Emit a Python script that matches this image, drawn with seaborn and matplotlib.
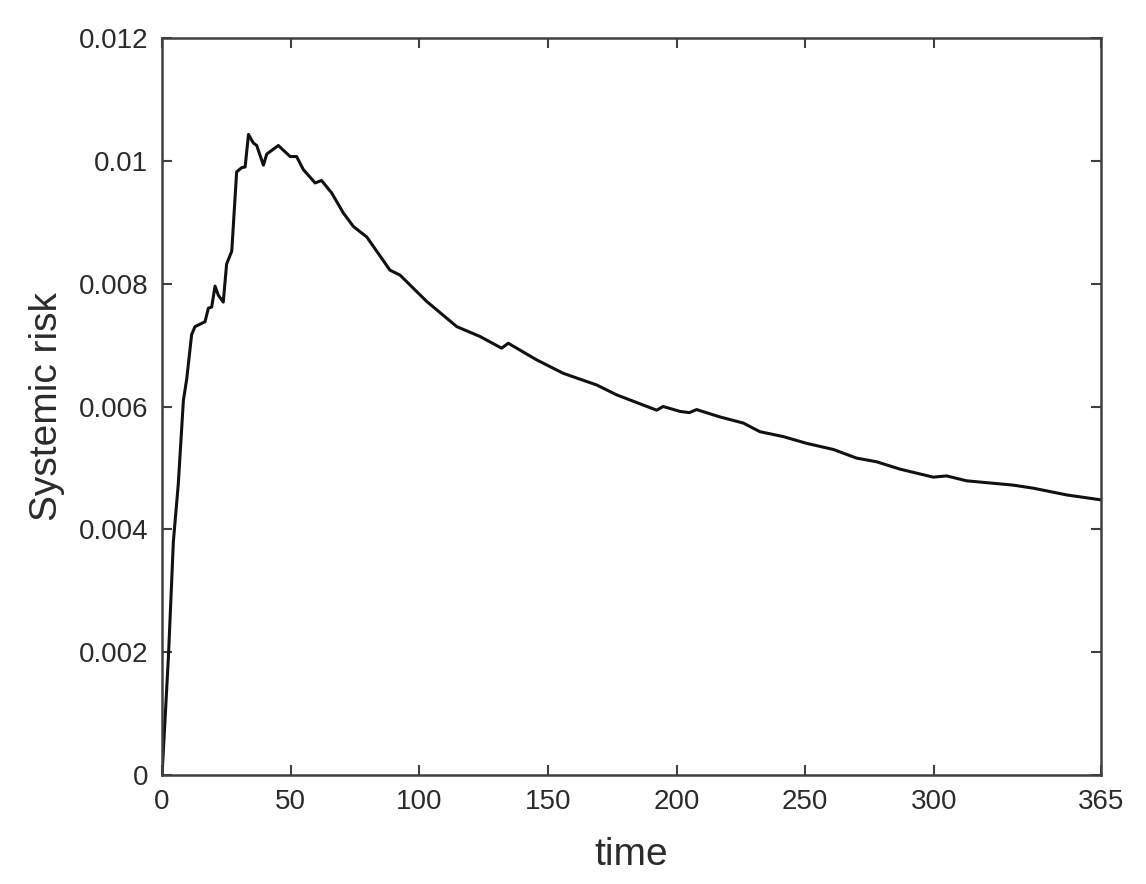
"""Systemic risk over one year, MATLAB-style line chart."""
import matplotlib
matplotlib.use('Agg')
import matplotlib.pyplot as plt
import pandas as pd
import seaborn as sns

sns.set_theme(style="ticks")
plt.rcParams['font.family'] = ['Liberation Sans', 'DejaVu Sans']

# --- values ---
time = [0, 2.5, 4.4, 6.3, 8.3, 9.6, 11.5, 12.8, 16.7, 18, 19.3, 20.6, 21.9, 23.8,
        25.1, 27.1, 29, 31, 32.3, 33.6, 35.5, 36.8, 39.4, 40.7, 45.2, 49.8, 52.3,
        54.9, 59.5, 62, 65.9, 70.5, 74.4, 79.6, 88.6, 92.5, 102.9, 114.6, 123.6,
        132, 134.6, 145.6, 156, 169, 176.7, 192.3, 194.8, 201.4, 205, 207.8,
        216.9, 226, 232.4, 241.5, 250.6, 261, 270, 277.8, 286.9, 299.8, 305,
        312.8, 330.9, 338.7, 351.7, 365]
risk = [0, 0.00194, 0.0038, 0.00473, 0.0061, 0.00645, 0.00717, 0.0073, 0.00738,
        0.0076, 0.00762, 0.00796, 0.00781, 0.0077, 0.00832, 0.00853, 0.00982,
        0.00989, 0.0099, 0.01043, 0.01029, 0.01025, 0.00993, 0.01011, 0.01025,
        0.01007, 0.01007, 0.00986, 0.00964, 0.00968, 0.00948, 0.00915, 0.00893,
        0.00876, 0.00822, 0.00814, 0.00771, 0.0073, 0.00714, 0.00695, 0.00703,
        0.00676, 0.00654, 0.00635, 0.00619, 0.00594, 0.006, 0.00592, 0.0059,
        0.00595, 0.00583, 0.00573, 0.00559, 0.00551, 0.0054, 0.0053, 0.00516,
        0.0051, 0.00498, 0.00485, 0.00487, 0.00479, 0.00472, 0.00467, 0.00456,
        0.00448]
x_ticks = [0, 50, 100, 150, 200, 250, 300, 365]
y_ticks = [0, 0.002, 0.004, 0.006, 0.008, 0.01, 0.012]
y_ticklabels = ['0', '0.002', '0.004', '0.006', '0.008', '0.01', '0.012']

df = pd.DataFrame({'time': time, 'risk': risk})

fig = plt.figure(figsize=(11.46, 8.84), dpi=100)
ax = fig.add_axes([0.1414, 0.1233, 0.8193, 0.8337])

sns.lineplot(data=df, x='time', y='risk', color='#111111', linewidth=2.2, ax=ax)

ax.set_xlim(0, 365)
ax.set_ylim(0, 0.012)
ax.set_xticks(x_ticks)
ax.set_yticks(y_ticks)
ax.set_yticklabels(y_ticklabels)

text_color = '#2b2b2b'
ax.tick_params(direction='in', length=7, width=1.5, colors='#404040',
               labelcolor=text_color, labelsize=20, top=True, right=True, pad=10)
for side in ax.spines.values():
    side.set_color('#404040')
    side.set_linewidth(1.8)

ax.set_xlabel('time', fontsize=28, color=text_color, labelpad=16)
ax.set_ylabel('Systemic risk', fontsize=28, color=text_color, labelpad=10)

fig.savefig('out.png', dpi=100)
plt.close()
